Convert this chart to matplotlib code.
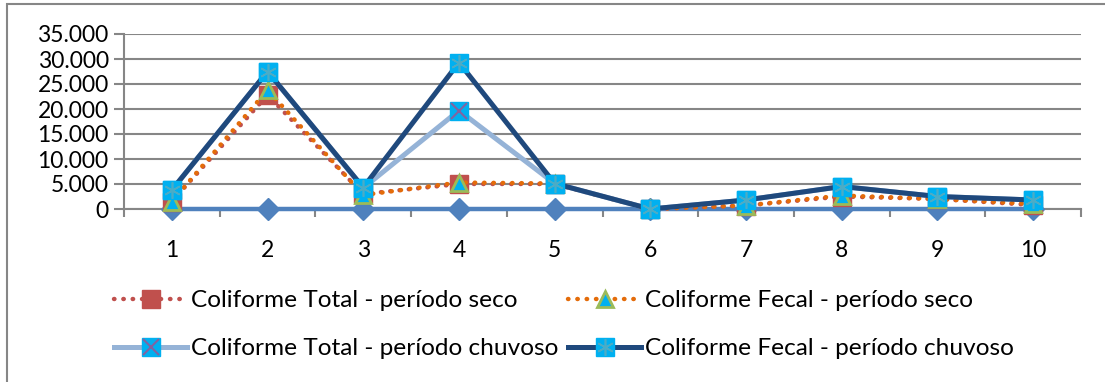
import matplotlib
matplotlib.use("Agg")
import matplotlib.pyplot as plt
import matplotlib.patches as mpatches
from matplotlib.ticker import FixedLocator, FuncFormatter

plt.rcParams['font.family'] = ['Lato', 'DejaVu Sans']

# data
pontos = [1, 2, 3, 4, 5, 6, 7, 8, 9, 10]
ct_seco = [1500, 22800, 3000, 5000, 5000, 0, 700, 2500, 2000, 800]
cf_seco = [1500, 23800, 2800, 5300, 5100, 0, 700, 2700, 2000, 1000]
ct_chuvoso = [3800, 27500, 4200, 19700, 5100, 0, 1800, 4500, 2500, 1800]
cf_chuvoso = [3800, 27500, 4300, 29300, 5100, 0, 1800, 4500, 2500, 1800]
zeros = [0, 0, 0, 0, 0, 0, 0, 0, 0, 0]
labels = ['Coliforme Total - período seco', 'Coliforme Fecal - período seco',
          'Coliforme Total - período chuvoso', 'Coliforme Fecal - período chuvoso']

grid_col = '#868686'
fs = 16.5
fs_leg = 17.6

fig = plt.figure(figsize=(11.05, 3.82), dpi=100)
ax = fig.add_axes([124/1105, 1 - 209/382, (1081 - 124)/1105, 175/382])

# series sitting on zero (no legend entry)
ax.plot(pontos, zeros, color='#4F81BD', lw=3.2, marker='D', ms=11,
        mfc='#4F81BD', mec='#4F81BD', zorder=3, clip_on=False)

dots = (0, (0.1, 2.0))
l1, = ax.plot(pontos, ct_seco, color='#C0504D', lw=3.2, ls=dots,
              dash_capstyle='round', marker='s', ms=13, mfc='#C0504D',
              mec='#C0504D', zorder=4, clip_on=False)
l2, = ax.plot(pontos, cf_seco, color='#E46C0A', lw=3.2, ls=dots,
              dash_capstyle='round', marker='^', ms=12, mfc='#00B0F0',
              mec='#9BBB59', mew=2, zorder=5, clip_on=False)
l3, = ax.plot(pontos, ct_chuvoso, color='#95B3D7', lw=3.6, marker='s',
              ms=13, mfc='#00B0F0', mec='#00B0F0', zorder=4.5,
              clip_on=False)
l3x, = ax.plot(pontos, ct_chuvoso, ls='none', marker='x', ms=12,
               mec='#8064A2', mew=1.5, zorder=4.6, clip_on=False)
l4, = ax.plot(pontos, cf_chuvoso, color='#1F497D', lw=3.6, marker='s',
              ms=13, mfc='#00B0F0', mec='#00B0F0', zorder=6, clip_on=False)
l4x, = ax.plot(pontos, cf_chuvoso, ls='none', marker=(6, 2, 0), ms=12,
               mec='#4BACC6', mew=1.2, zorder=6.1, clip_on=False)

ax.set_xlim(0.5, 10.5)
ax.set_ylim(0, 35000)
ax.yaxis.set_major_locator(FixedLocator(range(0, 35001, 5000)))
ax.yaxis.set_major_formatter(FuncFormatter(lambda v, p: f"{int(v):,}".replace(',', '.')))
ax.grid(axis='y', color=grid_col, lw=1.5)
ax.set_axisbelow(True)

ax.set_xticks(pontos)
ax.set_xticklabels([str(p) for p in pontos])
ax.xaxis.set_minor_locator(FixedLocator([i + 0.5 for i in range(0, 11)]))
ax.tick_params(axis='x', which='major', length=0, pad=22, labelsize=fs)
ax.tick_params(axis='x', which='minor', length=6, width=1.5, color=grid_col)
ax.tick_params(axis='y', length=7, width=1.5, color=grid_col, pad=4,
               labelsize=fs)

for s in ['top', 'right']:
    ax.spines[s].set_visible(False)
for s in ['left', 'bottom']:
    ax.spines[s].set_color(grid_col)
    ax.spines[s].set_linewidth(1.5)

# legend is filled column by column, so reorder to read row by row
handles = [l1, (l3, l3x), l2, (l4, l4x)]
leg_labels = [labels[0], labels[2], labels[1], labels[3]]
fig.legend(handles, leg_labels,
           loc='upper left', bbox_to_anchor=(114/1105, 1 - 290/382),
           ncol=2, frameon=False, fontsize=fs_leg, handlelength=3.0,
           handletextpad=0.15, columnspacing=0.4, labelspacing=1.1,
           borderpad=0, borderaxespad=0)

# outer chart border
fig.patches.append(mpatches.Rectangle((7/1105, -0.1), 2, 1 - 4/382 + 0.1,
                                      transform=fig.transFigure, fill=False,
                                      edgecolor=grid_col, lw=1.5))

fig.savefig('out.png', dpi=100)
